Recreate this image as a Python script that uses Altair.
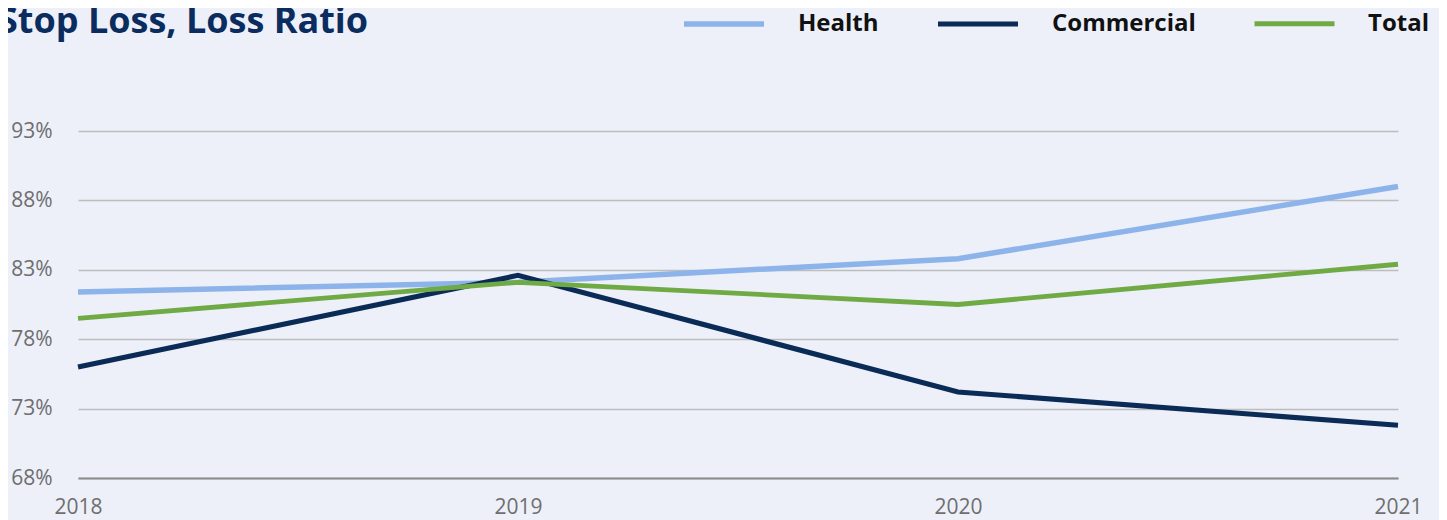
import altair as alt
import pandas as pd

years = [2018, 2019, 2020, 2021]
series_names = ["Health", "Commercial", "Total"]
health = [81.4, 82.1, 83.8, 89.0]
commercial = [76.0, 82.6, 74.2, 71.8]
total = [79.5, 82.1, 80.5, 83.4]
y_ticks = [68, 73, 78, 83, 88, 93]
colors = ["#8DB4EA", "#0B2B57", "#6FAA44"]
widths = [5.5, 4.8, 5.0]

rows = []
for name, vals in zip(series_names, [health, commercial, total]):
    for yr, v in zip(years, vals):
        rows.append({"Year": yr, "Series": name, "Value": v})
df = pd.DataFrame(rows)

BG = "#EDF0F9"
FONT = "Open Sans"

chart = alt.Chart(df).mark_line().encode(
    x=alt.X("Year:Q",
            scale=alt.Scale(domain=[2018, 2021], nice=False, zero=False),
            axis=alt.Axis(values=years, format="d", title=None, grid=False,
                          ticks=False, domain=True, domainColor="#8C8C8C",
                          domainWidth=2, labelFontSize=21, labelColor="#6E6E6E",
                          labelPadding=18, labelFont=FONT, labelFlush=False)),
    y=alt.Y("Value:Q",
            scale=alt.Scale(domain=[68, 93], nice=False, zero=False),
            axis=alt.Axis(values=y_ticks, labelExpr="datum.value + '%'", title=None,
                          grid=True, gridColor="#BDBDBD", gridWidth=1.5,
                          ticks=False, domain=False, labelFontSize=21,
                          labelColor="#6E6E6E", labelPadding=26, labelFont=FONT)),
    color=alt.Color("Series:N",
                    scale=alt.Scale(domain=series_names, range=colors),
                    legend=alt.Legend(orient="none", legendX=603, legendY=-150,
                                      direction="horizontal", title=None,
                                      symbolType="stroke", symbolSize=6400,
                                      symbolStrokeWidth=6, labelFontSize=24,
                                      labelFontWeight="bold", labelColor="#111111",
                                      labelFont=FONT, labelOffset=31,
                                      columnPadding=48, labelLimit=300)),
    strokeWidth=alt.StrokeWidth("Series:N",
                                scale=alt.Scale(domain=series_names, range=widths),
                                legend=None),
    order=alt.Order("Year:Q"),
).properties(
    width=1320,
    height=347,
    title=alt.TitleParams("Stop Loss, Loss Ratio", anchor="start", frame="group",
                          dx=-80, dy=60, fontSize=36, font=FONT, fontWeight="bold",
                          color="#0A2C5E", offset=0),
    autosize=alt.AutoSizeParams(type="none"),
    padding={"left": 70, "top": 123, "right": 41, "bottom": 42},
).configure(background=BG).configure_view(fill=BG, stroke=None)

chart.save("out.html", embed_options={"renderer": "svg", "actions": False})
